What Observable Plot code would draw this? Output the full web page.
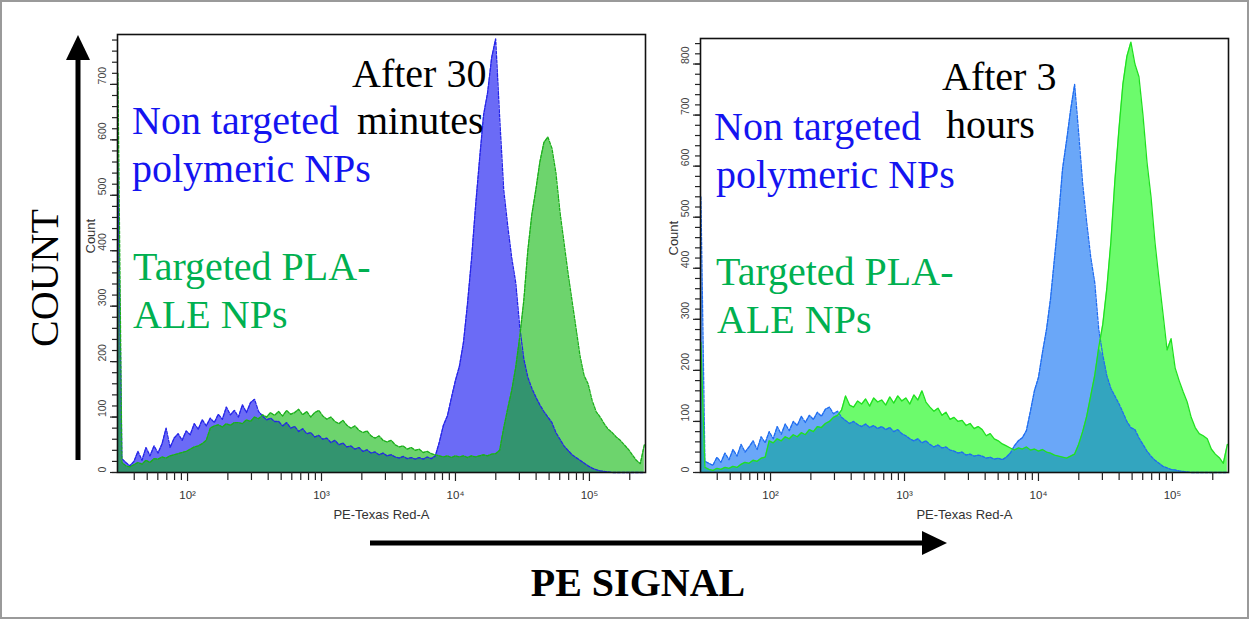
<!DOCTYPE html>
<html>
<head>
<meta charset="utf-8">
<script src="https://cdn.jsdelivr.net/npm/d3@7"></script>
<script src="https://cdn.jsdelivr.net/npm/@observablehq/plot@0.6"></script>
<style>
  html, body { margin: 0; padding: 0; background: #fff; }
  #fig { position: relative; width: 1249px; height: 619px; overflow: hidden; background: #fff; }
  #fig > svg { position: absolute; }
  #border { position: absolute; left: 0; top: 0; width: 1249px; height: 619px; box-sizing: border-box; border: 2px solid #9a9a9a; pointer-events: none; }
</style>
</head>
<body>
<div id="fig"><div id="border"></div></div>
<script>
// Histogram channels: log10 position of the first channel and channel width (decades)
const binStart = 1.48;
const binStep = 0.03;

// Counts per channel, 30 minutes
const blue30 = [
  560, 25, 18, 12, 20, 38, 22, 45, 30, 48,
  35, 52, 80, 45, 62, 70, 58, 75, 68, 88,
  78, 95, 84, 98, 90, 105, 96, 118, 104, 112,
  100, 122, 108, 126, 132, 110, 102, 95, 98, 92,
  92, 84, 90, 80, 83, 74, 79, 70, 72, 64,
  67, 60, 62, 54, 58, 50, 53, 46, 48, 42,
  45, 38, 41, 35, 37, 32, 35, 30, 32, 28,
  26, 29, 25, 27, 24, 27, 24, 28, 25, 30,
  55, 85, 102, 135, 166, 192, 235, 305, 385, 480,
  565, 645, 685, 748, 782, 640, 510, 445, 387, 342,
  262, 205, 172, 152, 136, 122, 110, 100, 90, 72,
  60, 48, 40, 32, 27, 22, 17, 12, 8, 5,
  3, 2, 1, 0, 0, 0, 0, 0, 0, 0,
  0, 0
];
const green30 = [
  720, 18, 12, 10, 14, 18, 15, 22, 18, 25,
  24, 28, 26, 30, 32, 34, 36, 38, 42, 46,
  48, 52, 58, 80, 84, 86, 82, 88, 85, 90,
  90, 88, 95, 92, 100, 97, 104, 100, 108, 103,
  110, 102, 112, 105, 108, 114, 104, 110, 100, 108,
  112, 102, 96, 100, 92, 88, 94, 85, 80, 84,
  76, 72, 75, 66, 62, 66, 58, 55, 58, 50,
  46, 48, 42, 45, 40, 42, 36, 38, 34, 32,
  30, 28, 30, 27, 30, 28, 30, 27, 30, 28,
  30, 32, 30, 33, 34, 40, 80, 115, 148, 190,
  245, 310, 400, 465, 510, 560, 595, 605, 585, 540,
  470, 415, 360, 310, 260, 210, 175, 160, 130, 110,
  100, 88, 78, 72, 64, 58, 50, 42, 32, 22,
  16, 50
];

// Counts per channel, 3 hours
const blue3h = [
  540, 22, 18, 14, 30, 20, 38, 25, 45, 32,
  55, 40, 50, 62, 45, 70, 58, 80, 66, 90,
  75, 95, 82, 100, 92, 110, 98, 112, 104, 118,
  110, 124, 128, 115, 120, 108, 102, 96, 100, 94,
  90, 95, 88, 92, 86, 90, 84, 88, 80, 84,
  76, 72, 66, 62, 66, 58, 62, 55, 50, 54,
  48, 50, 44, 42, 38, 40, 34, 36, 32, 34,
  32, 28, 30, 26, 28, 25, 30, 38, 52, 62,
  68, 82, 120, 160, 186, 235, 280, 340, 420, 500,
  595, 650, 710, 760, 665, 565, 490, 422, 372, 280,
  230, 190, 165, 150, 135, 118, 100, 88, 84, 68,
  55, 42, 32, 24, 18, 12, 9, 6, 5, 3,
  2, 1, 0, 0, 0, 0, 0, 0, 0, 0,
  0, 0
];
const green3h = [
  255, 10, 6, 4, 8, 6, 10, 8, 12, 10,
  16, 20, 18, 24, 22, 28, 30, 62, 58, 66,
  62, 70, 66, 74, 70, 78, 74, 84, 80, 90,
  88, 96, 100, 108, 112, 122, 150, 132, 128, 140,
  134, 144, 130, 146, 138, 142, 132, 148, 136, 150,
  140, 146, 134, 152, 142, 160, 138, 128, 120, 126,
  112, 118, 104, 108, 100, 102, 92, 96, 86, 90,
  84, 72, 76, 66, 62, 56, 52, 48, 44, 48,
  46, 50, 44, 46, 42, 45, 40, 38, 34, 32,
  30, 28, 32, 36, 55, 80, 110, 150, 190, 245,
  290, 360, 450, 570, 670, 760, 815, 843, 800, 775,
  700, 608, 540, 450, 378, 310, 240, 262, 205, 180,
  158, 138, 108, 88, 76, 72, 66, 46, 36, 29,
  18, 55
];

// Axis ticks
const decadeTicks = [100, 1000, 10000, 100000];
const decadeLabels = ["10²", "10³", "10⁴", "10⁵"];
const minorMultipliers = [2, 3, 4, 5, 6, 7, 8, 9];
const yMajor30 = [0, 100, 200, 300, 400, 500, 600, 700];
const yMajor3h = [0, 100, 200, 300, 400, 500, 600, 700, 800];

const xDomain = [30, 262144];
const minorX = [10, ...decadeTicks]
  .flatMap(d => minorMultipliers.map(m => m * d))
  .filter(v => v > xDomain[0] && v < xDomain[1] && !decadeTicks.includes(v));

function histogramPanel({blue, green, yMax, yMajor, marginTop, colors, greenDash}) {
  const rows = blue.map((b, i) => ({
    x: Math.pow(10, binStart + i * binStep),
    blue: b,
    green: green[i],
    both: Math.min(b, green[i])
  }));
  const minorY = d3.range(0, yMax, 20);
  const labelOf = new Map(decadeTicks.map((t, i) => [t, decadeLabels[i]]));
  return Plot.plot({
    width: 592,
    height: 530,
    marginLeft: 60,
    marginRight: 4,
    marginTop,
    marginBottom: 58,
    style: {background: "transparent", fontFamily: "'Liberation Sans', Arial, sans-serif", color: "#333"},
    x: {type: "log", domain: xDomain},
    y: {domain: [0, yMax]},
    marks: [
      Plot.areaY(rows, {x: "x", y: "blue", fill: colors.blueFill}),
      Plot.areaY(rows, {x: "x", y: "green", fill: colors.greenFill}),
      Plot.areaY(rows, {x: "x", y: "both", fill: colors.both}),
      Plot.lineY(rows, {x: "x", y: "blue", stroke: colors.blueLine, strokeWidth: 1.3, strokeDasharray: "3,1.5"}),
      Plot.lineY(rows, {x: "x", y: "green", stroke: colors.greenLine, strokeWidth: 1.3, strokeDasharray: greenDash}),
      Plot.frame({stroke: "#111", strokeWidth: 1.6}),
      Plot.axisX({ticks: minorX, tickSize: 8, fill: "none", label: null, stroke: "#222", strokeWidth: 1.2}),
      Plot.axisX({ticks: decadeTicks, tickSize: 9, tickPadding: 9, tickFormat: d => labelOf.get(d),
                  fontSize: 11.5, label: null, stroke: "#222", strokeWidth: 1.2, fill: "#333"}),
      Plot.axisY({ticks: minorY, tickSize: 5, fill: "none", label: null, stroke: "#222", strokeWidth: 1.2}),
      Plot.axisY({ticks: yMajor, tickSize: 7, fill: "none", label: null, stroke: "#222", strokeWidth: 1.2}),
      Plot.text(yMajor, {y: d => d, text: d => String(d), frameAnchor: "left", dx: -15, rotate: -90,
                         fontSize: 10.5, fill: "#444"}),
      Plot.text(["Count"], {frameAnchor: "left", dx: -27, rotate: -90, fontSize: 13, fill: "#333"}),
      Plot.text(["PE-Texas Red-A"], {frameAnchor: "bottom", dy: 46, fontSize: 13, fill: "#333"})
    ]
  });
}

const fig = document.getElementById("fig");

const left = histogramPanel({
  blue: blue30, green: green30, yMax: 790, yMajor: yMajor30, marginTop: 34,
  colors: {blueFill: "#6b6bf6", greenFill: "#6dd46d", both: "#33946f", blueLine: "#2424e8", greenLine: "#1aae1a"},
  greenDash: "3,1.5"
});
left.style.left = "57px";
left.style.top = "0px";
fig.insertBefore(left, fig.firstChild);

const right = histogramPanel({
  blue: blue3h, green: green3h, yMax: 850, yMajor: yMajor3h, marginTop: 38,
  colors: {blueFill: "#6aa7f8", greenFill: "#6cfb6c", both: "#33a5bf", blueLine: "#1f6cf0", greenLine: "#20e020"},
  greenDash: null
});
right.style.left = "640px";
right.style.top = "0px";
fig.insertBefore(right, fig.firstChild.nextSibling);

// Annotations, axis arrows and titles drawn over both panels
const overlay = d3.create("svg")
  .attr("width", 1249).attr("height", 619)
  .style("left", "0px").style("top", "0px");

const serif = "'Liberation Serif', 'Times New Roman', serif";
const notes = [
  {text: "After 30", x: 352, y: 87, fill: "#000"},
  {text: "minutes", x: 357, y: 134, fill: "#000"},
  {text: "Non targeted", x: 132, y: 134, fill: "#1414f0"},
  {text: "polymeric NPs", x: 132, y: 182, fill: "#1414f0"},
  {text: "Targeted PLA-", x: 133, y: 280, fill: "#00b050"},
  {text: "ALE NPs", x: 133, y: 328, fill: "#00b050"},
  {text: "After 3", x: 942, y: 90, fill: "#000"},
  {text: "hours", x: 946, y: 138, fill: "#000"},
  {text: "Non targeted", x: 714, y: 140, fill: "#1414f0"},
  {text: "polymeric NPs", x: 716, y: 188, fill: "#1414f0"},
  {text: "Targeted PLA-", x: 716, y: 285, fill: "#00b050"},
  {text: "ALE NPs", x: 717, y: 333, fill: "#00b050"}
];
overlay.selectAll("text.note").data(notes).join("text")
  .attr("class", "note")
  .attr("x", d => d.x).attr("y", d => d.y)
  .attr("fill", d => d.fill)
  .style("font-family", serif).style("font-size", "40px")
  .text(d => d.text);

// vertical COUNT arrow
overlay.append("line").attr("x1", 78).attr("y1", 460).attr("x2", 78).attr("y2", 58)
  .attr("stroke", "#000").attr("stroke-width", 5);
overlay.append("path").attr("d", "M78,35 L66,60 L90,60 Z").attr("fill", "#000");
overlay.append("text")
  .attr("transform", "translate(58,278) rotate(-90)")
  .attr("text-anchor", "middle")
  .style("font-family", serif).style("font-size", "40px")
  .text("COUNT");

// horizontal PE SIGNAL arrow
overlay.append("line").attr("x1", 370).attr("y1", 543).attr("x2", 925).attr("y2", 543)
  .attr("stroke", "#000").attr("stroke-width", 5);
overlay.append("path").attr("d", "M947,543 L922,531 L922,555 Z").attr("fill", "#000");
overlay.append("text")
  .attr("x", 638).attr("y", 596)
  .attr("text-anchor", "middle")
  .style("font-family", serif).style("font-size", "40px").style("font-weight", "bold")
  .text("PE SIGNAL");

fig.appendChild(overlay.node());
</script>
</body>
</html>
